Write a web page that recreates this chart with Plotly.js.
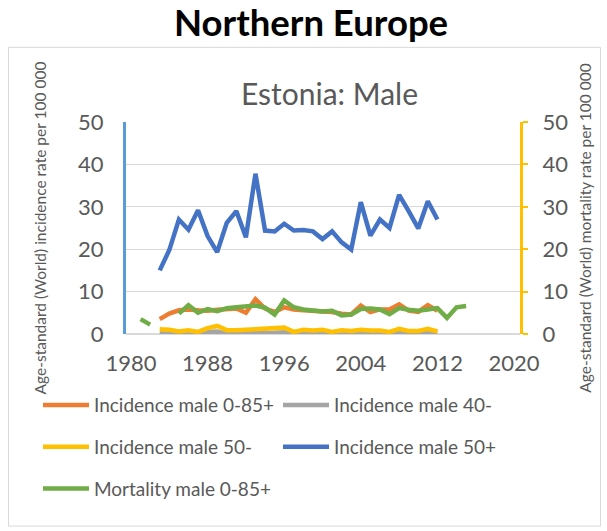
<!DOCTYPE html>
<html>
<head>
<meta charset="utf-8">
<script src="https://cdn.plot.ly/plotly-3.0.1.min.js"></script>
<style>
  html, body { margin: 0; padding: 0; background: #ffffff; }
  #chart { width: 607px; height: 531px; }
</style>
</head>
<body>
<div id="chart"></div>
<script>
// ---- data ----
const incidenceYears = [1983,1984,1985,1986,1987,1988,1989,1990,1991,1992,1993,1994,1995,1996,1997,1998,1999,2000,2001,2002,2003,2004,2005,2006,2007,2008,2009,2010,2011,2012];
const incidenceMale0_85 = [3.5,4.8,5.6,5.8,5.6,5.5,5.7,5.8,6.0,5.0,8.2,6.0,5.2,6.3,5.8,5.6,5.5,5.3,5.2,4.8,4.6,6.7,5.2,5.8,5.8,7.0,5.5,5.2,6.8,5.5];
const incidenceMale40 = [0.2,0.1,0.0,0.2,0.1,0.5,0.6,0.1,0.1,0.2,0.2,0.1,0.3,0.4,0.0,0.2,0.1,0.3,0.0,0.2,0.1,0.2,0.1,0.2,0.1,0.3,0.1,0.1,0.3,0.1];
const incidenceMale50minus = [1.1,1.0,0.6,0.9,0.5,1.4,1.9,0.9,0.9,1.0,1.1,1.1,1.2,1.5,0.5,1.0,0.8,1.0,0.5,0.9,0.7,1.0,0.8,0.8,0.5,1.2,0.7,0.7,1.2,0.6];
const incidenceMale50plus = [15.0,19.8,27.0,24.6,29.2,23.1,19.3,26.2,29.0,22.8,37.8,24.4,24.2,26.0,24.4,24.5,24.2,22.4,24.2,21.6,19.9,31.1,23.2,27.0,25.0,32.8,29.0,24.9,31.3,27.0];
const mortalityYears = [1981,1982,1983,1984,1985,1986,1987,1988,1989,1990,1991,1992,1993,1994,1995,1996,1997,1998,1999,2000,2001,2002,2003,2004,2005,2006,2007,2008,2009,2010,2011,2012,2013,2014,2015];
const mortalityMale0_85 = [3.5,2.2,null,null,4.8,6.8,5.0,5.9,5.4,6.1,6.3,6.5,6.7,6.2,4.6,7.9,6.3,5.8,5.6,5.3,5.5,4.4,4.6,5.9,6.0,5.8,4.7,6.1,5.7,5.5,5.8,6.1,3.8,6.3,6.6];
const xTickValues = [1980,1988,1996,2004,2012,2020];
const seriesNames = ["Incidence male 0-85+","Incidence male 40-","Incidence male 50-","Incidence male 50+","Mortality male 0-85+"];

// ---- geometry helpers (pixel -> paper) ----
const W = 607, H = 531;
const L = 126, R = 520, T = 121.5, B = 334.5;
const px = v => (v - L) / (R - L);
const py = v => (B - v) / (B - T);

const grey = "#595959";
const FONT = "Lato, 'Open Sans', sans-serif";
const lw = 4.5;

const traces = [
  {x: incidenceYears, y: incidenceMale0_85, name: seriesNames[0], type: "scatter", mode: "lines",
   line: {color: "#ED7D31", width: lw}, legend: "legend", yaxis: "y"},
  {x: incidenceYears, y: incidenceMale40, name: seriesNames[1], type: "scatter", mode: "lines",
   line: {color: "#A5A5A5", width: lw}, legend: "legend2", yaxis: "y"},
  {x: incidenceYears, y: incidenceMale50minus, name: seriesNames[2], type: "scatter", mode: "lines",
   line: {color: "#FFC000", width: lw}, legend: "legend3", yaxis: "y"},
  {x: incidenceYears, y: incidenceMale50plus, name: seriesNames[3], type: "scatter", mode: "lines",
   line: {color: "#4472C4", width: lw}, legend: "legend4", yaxis: "y"},
  {x: mortalityYears, y: mortalityMale0_85, name: seriesNames[4], type: "scatter", mode: "lines",
   line: {color: "#70AD47", width: lw}, legend: "legend5", yaxis: "y2", connectgaps: false}
];

const legendBase = {
  orientation: "v", xanchor: "left", yanchor: "middle",
  itemwidth: 46,
  font: {family: FONT, size: 19, color: grey},
  bgcolor: "rgba(0,0,0,0)", borderwidth: 0, itemclick: false, itemdoubleclick: false
};
const col1 = 38, col2 = 278, row1 = 406, row2 = 448, row3 = 490;

const layout = {
  width: W, height: H,
  margin: {l: L, r: W - R, t: T, b: H - B, pad: 0},
  paper_bgcolor: "#ffffff", plot_bgcolor: "#ffffff",
  font: {family: FONT, color: grey},
  showlegend: true,
  xaxis: {
    range: [1980 - 5 / 9.575, 2020 + 6 / 9.575],
    tickvals: xTickValues, ticktext: xTickValues.map(String),
    showgrid: false, zeroline: false, showline: false, ticks: "",
    ticklabelstandoff: 14,
    tickfont: {family: FONT, size: 22, color: grey}, fixedrange: true
  },
  yaxis: {
    range: [0, 50], dtick: 10, tick0: 0,
    showgrid: true, gridcolor: "#D9D9D9", gridwidth: 1.3,
    zeroline: true, zerolinecolor: "#D9D9D9", zerolinewidth: 1.3,
    showline: true, linecolor: "#5B9BD5", linewidth: 3, ticks: "",
    ticklabelstandoff: 15,
    tickfont: {family: FONT, size: 22, color: grey},
    title: {text: "Age-standard (World) incidence rate per 100 000", standoff: 28,
            font: {family: FONT, size: 15.5, color: grey}},
    fixedrange: true
  },
  yaxis2: {
    range: [0, 50], dtick: 10, tick0: 0, overlaying: "y", side: "right",
    showgrid: false, zeroline: false,
    showline: true, linecolor: "#FFC000", linewidth: 3,
    ticks: "outside", ticklen: 5, tickwidth: 2, tickcolor: "#FFC000",
    ticklabelstandoff: 10,
    tickfont: {family: FONT, size: 22, color: grey},
    title: {text: "Age-standard (World) mortality rate per 100 000", standoff: 13,
            font: {family: FONT, size: 15.5, color: grey}},
    fixedrange: true
  },
  legend: Object.assign({}, legendBase, {x: px(col1), y: py(row1)}),
  legend2: Object.assign({}, legendBase, {x: px(col2), y: py(row1)}),
  legend3: Object.assign({}, legendBase, {x: px(col1), y: py(row2)}),
  legend4: Object.assign({}, legendBase, {x: px(col2), y: py(row2)}),
  legend5: Object.assign({}, legendBase, {x: px(col1), y: py(row3)}),
  annotations: [
    {text: "<b>Northern Europe</b>", xref: "paper", yref: "paper", x: px(311), y: py(21),
     xanchor: "center", yanchor: "middle", showarrow: false,
     font: {family: FONT, size: 36.5, color: "#000000"}},
    {text: "Estonia: Male", xref: "paper", yref: "paper", x: px(329), y: py(92),
     xanchor: "center", yanchor: "middle", showarrow: false,
     font: {family: FONT, size: 30, color: grey}}
  ],
  shapes: [
    {type: "rect", xref: "paper", yref: "paper", x0: px(8.5), x1: px(600.5), y0: py(527.5), y1: py(46.5),
     line: {color: "#D9D9D9", width: 1}, fillcolor: "rgba(0,0,0,0)", layer: "below"}
  ]
};

Plotly.newPlot("chart", traces, layout, {displayModeBar: false, staticPlot: true});
</script>
</body>
</html>
